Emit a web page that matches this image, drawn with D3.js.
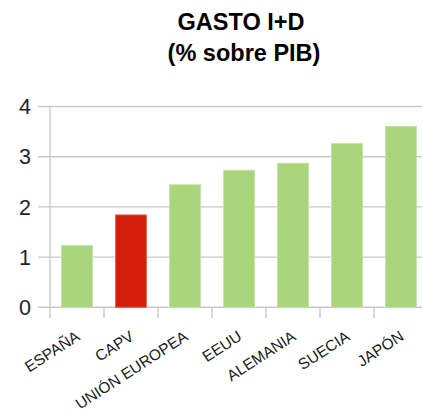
<!DOCTYPE html>
<html>
<head>
<meta charset="utf-8">
<script src="https://cdn.jsdelivr.net/npm/d3@7"></script>
<style>
  body { margin: 0; background: #fff; }
  svg { display: block; font-family: "Liberation Sans", Arial, sans-serif; }
</style>
</head>
<body>
<svg width="422" height="414"></svg>
<script>
const categories = ["ESPAÑA", "CAPV", "UNIÓN EUROPEA", "EEUU", "ALEMANIA", "SUECIA", "JAPÓN"];
const values = [1.23, 1.84, 2.44, 2.73, 2.87, 3.26, 3.60];
const highlight = ["CAPV"];
const yTicks = [0, 1, 2, 3, 4];
const titleLines = ["GASTO I+D", "(% sobre PIB)"];

const svg = d3.select("svg");

const x = d3.scaleBand()
  .domain(categories)
  .range([50, 428])
  .paddingInner(0.43)
  .paddingOuter(0.215);

const y = d3.scaleLinear()
  .domain([0, 4])
  .range([307.3, 106.5]);

// title
svg.append("text")
  .attr("x", 241).attr("y", 30)
  .attr("text-anchor", "middle")
  .attr("font-weight", "bold").attr("font-size", 23.5)
  .attr("fill", "#000")
  .text(titleLines[0]);
svg.append("text")
  .attr("x", 244).attr("y", 61)
  .attr("text-anchor", "middle")
  .attr("font-weight", "bold").attr("font-size", 23.5)
  .attr("fill", "#000")
  .text(titleLines[1]);

// horizontal grid lines
svg.append("g")
  .selectAll("line")
  .data(yTicks)
  .join("line")
  .attr("x1", 38).attr("x2", 422)
  .attr("y1", d => y(d)).attr("y2", d => y(d))
  .attr("stroke", "#c9c9c9").attr("stroke-width", 1.4);

// y tick labels
svg.append("g")
  .selectAll("text")
  .data(yTicks)
  .join("text")
  .attr("x", 31).attr("y", d => y(d))
  .attr("dy", "0.36em")
  .attr("text-anchor", "end")
  .attr("font-size", 21.5)
  .attr("fill", "#1c2430")
  .text(d => d);

// vertical axis line
svg.append("line")
  .attr("x1", 50).attr("x2", 50)
  .attr("y1", y(4)).attr("y2", 318)
  .attr("stroke", "#c9c9c9").attr("stroke-width", 1.4);

// category ticks between bands
const gap = x.step() * x.paddingInner() / 2;
svg.append("g")
  .selectAll("line")
  .data(categories.slice(1))
  .join("line")
  .attr("x1", d => x(d) - gap)
  .attr("x2", d => x(d) - gap)
  .attr("y1", y(0)).attr("y2", 318)
  .attr("stroke", "#c9c9c9").attr("stroke-width", 1.4);

// bars
svg.append("g")
  .selectAll("rect")
  .data(categories)
  .join("rect")
  .attr("x", d => x(d))
  .attr("y", (d, i) => y(values[i]))
  .attr("width", x.bandwidth())
  .attr("height", (d, i) => y(0) - y(values[i]))
  .attr("fill", d => highlight.includes(d) ? "#d21e0b" : "#a9d47b")
  .attr("stroke", d => highlight.includes(d) ? "#e2604f" : "#c3e2a3")
  .attr("stroke-width", 1);

// category labels
svg.append("g")
  .selectAll("text")
  .data(categories)
  .join("text")
  .attr("transform", d => `translate(${x(d) + x.bandwidth() / 2 + 4},339) rotate(-33)`)
  .attr("text-anchor", "end")
  .attr("font-size", 15.5)
  .attr("fill", "#1a1a1a")
  .text(d => d);
</script>
</body>
</html>
